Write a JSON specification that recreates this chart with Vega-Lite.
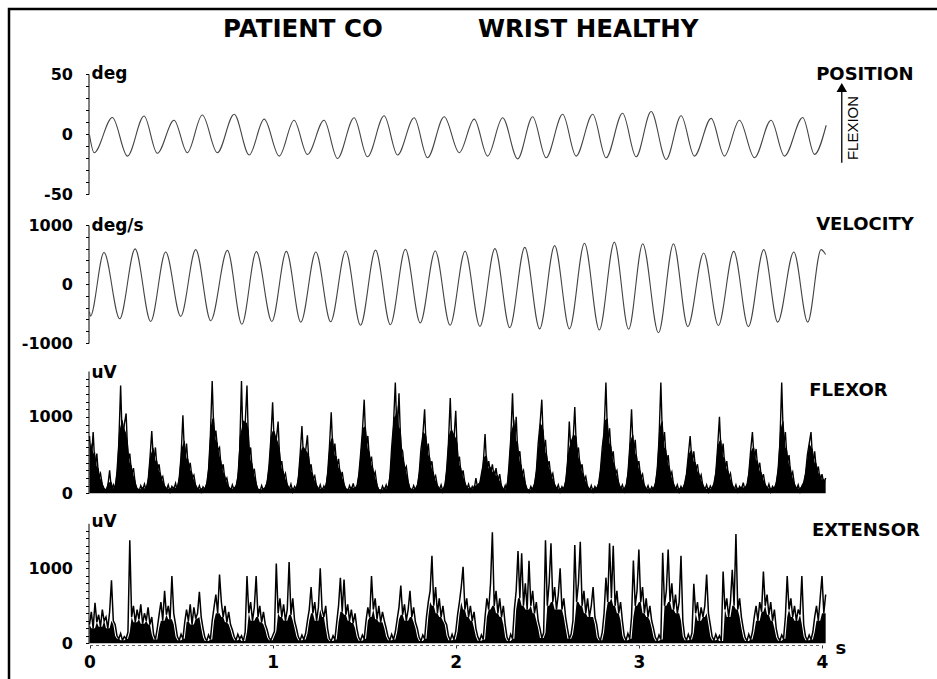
{
"$schema":"https://vega.github.io/schema/vega-lite/v6.json",
"width":940,"height":680,
"autosize":{"type":"none"},
"padding":{"left":9,"top":9,"right":0,"bottom":0},
"background":"white",
"config":{"view":{"stroke":"black","strokeWidth":2.5},"axis":{"grid":false,"domainColor":"black","tickColor":"black","labelColor":"black","titleColor":"black","labelFont":"DejaVu Sans","titleFont":"DejaVu Sans","labelFontWeight":"bold","titleFontWeight":"bold","labelFlush":false,"labelOverlap":false}},
"datasets":{
"pos":[{"t":0,"p":-1},{"t":0.025,"p":-15.6},{"t":0.125,"p":13.8},{"t":0.207,"p":-18.4},{"t":0.298,"p":15.0},{"t":0.370,"p":-16.1},{"t":0.462,"p":11.5},{"t":0.534,"p":-15.6},{"t":0.616,"p":15.8},{"t":0.698,"p":-15.6},{"t":0.790,"p":16.4},{"t":0.872,"p":-17.5},{"t":0.954,"p":12.4},{"t":1.036,"p":-18.4},{"t":1.117,"p":11.5},{"t":1.190,"p":-17.0},{"t":1.281,"p":11.5},{"t":1.354,"p":-20.4},{"t":1.445,"p":13.5},{"t":1.518,"p":-19.0},{"t":1.609,"p":15.2},{"t":1.682,"p":-17.5},{"t":1.773,"p":13.5},{"t":1.846,"p":-19.8},{"t":1.937,"p":14.4},{"t":2.019,"p":-15.6},{"t":2.101,"p":12.4},{"t":2.174,"p":-18.4},{"t":2.256,"p":13.5},{"t":2.338,"p":-20.7},{"t":2.420,"p":14.4},{"t":2.493,"p":-19.8},{"t":2.584,"p":16.4},{"t":2.657,"p":-18.4},{"t":2.748,"p":16.4},{"t":2.821,"p":-19.8},{"t":2.911,"p":17.3},{"t":2.985,"p":-19.0},{"t":3.067,"p":18.7},{"t":3.149,"p":-21.2},{"t":3.231,"p":15.2},{"t":3.303,"p":-18.4},{"t":3.395,"p":13.0},{"t":3.467,"p":-18.4},{"t":3.549,"p":11.5},{"t":3.631,"p":-19.8},{"t":3.722,"p":11.5},{"t":3.795,"p":-18.4},{"t":3.895,"p":13.8},{"t":3.959,"p":-17.0},{"t":4.023,"p":7.3}],
"vel":[{"t":0,"v":-470},{"t":0.005,"v":-545},{"t":0.079,"v":535},{"t":0.165,"v":-588},{"t":0.249,"v":595},{"t":0.334,"v":-635},{"t":0.416,"v":543},{"t":0.498,"v":-548},{"t":0.580,"v":583},{"t":0.662,"v":-623},{"t":0.753,"v":570},{"t":0.832,"v":-682},{"t":0.911,"v":548},{"t":0.996,"v":-635},{"t":1.075,"v":553},{"t":1.154,"v":-647},{"t":1.236,"v":543},{"t":1.317,"v":-640},{"t":1.399,"v":560},{"t":1.480,"v":-700},{"t":1.562,"v":575},{"t":1.643,"v":-690},{"t":1.725,"v":590},{"t":1.806,"v":-660},{"t":1.888,"v":560},{"t":1.969,"v":-700},{"t":2.051,"v":555},{"t":2.132,"v":-720},{"t":2.214,"v":600},{"t":2.295,"v":-740},{"t":2.377,"v":620},{"t":2.458,"v":-760},{"t":2.540,"v":650},{"t":2.621,"v":-760},{"t":2.703,"v":690},{"t":2.784,"v":-779},{"t":2.866,"v":710},{"t":2.944,"v":-768},{"t":3.021,"v":682},{"t":3.107,"v":-826},{"t":3.189,"v":682},{"t":3.267,"v":-722},{"t":3.354,"v":525},{"t":3.434,"v":-704},{"t":3.518,"v":553},{"t":3.598,"v":-722},{"t":3.682,"v":583},{"t":3.758,"v":-647},{"t":3.846,"v":543},{"t":3.922,"v":-647},{"t":3.995,"v":583},{"t":4.02,"v":500}],
"emg":[
{"t":0.00,"f":750,"e":250},{"t":0.01,"f":420,"e":420},{"t":0.02,"f":800,"e":200},{"t":0.03,"f":330,"e":540},{"t":0.04,"f":520,"e":280},
{"t":0.05,"f":200,"e":380},{"t":0.06,"f":260,"e":220},{"t":0.07,"f":110,"e":450},{"t":0.08,"f":60,"e":300},{"t":0.09,"f":20,"e":350},
{"t":0.10,"f":95,"e":200},{"t":0.11,"f":300,"e":420},{"t":0.12,"f":40,"e":840},{"t":0.13,"f":110,"e":300},{"t":0.14,"f":25,"e":250},
{"t":0.15,"f":280,"e":100},{"t":0.16,"f":650,"e":60},{"t":0.17,"f":1410,"e":130},{"t":0.18,"f":600,"e":40},{"t":0.19,"f":900,"e":90},
{"t":0.20,"f":1045,"e":60},{"t":0.21,"f":420,"e":150},{"t":0.22,"f":520,"e":1375},{"t":0.23,"f":250,"e":350},{"t":0.24,"f":330,"e":500},
{"t":0.25,"f":120,"e":280},{"t":0.26,"f":60,"e":450},{"t":0.27,"f":20,"e":320},{"t":0.28,"f":100,"e":520},{"t":0.29,"f":40,"e":260},
{"t":0.30,"f":120,"e":400},{"t":0.31,"f":30,"e":300},{"t":0.32,"f":160,"e":480},{"t":0.33,"f":450,"e":250},{"t":0.34,"f":815,"e":350},
{"t":0.35,"f":380,"e":120},{"t":0.36,"f":600,"e":50},{"t":0.37,"f":300,"e":200},{"t":0.38,"f":380,"e":380},{"t":0.39,"f":180,"e":550},
{"t":0.40,"f":220,"e":300},{"t":0.41,"f":80,"e":700},{"t":0.42,"f":40,"e":380},{"t":0.43,"f":110,"e":500},{"t":0.44,"f":20,"e":320},
{"t":0.45,"f":90,"e":896},{"t":0.46,"f":50,"e":400},{"t":0.47,"f":130,"e":250},{"t":0.48,"f":25,"e":90},{"t":0.49,"f":200,"e":40},
{"t":0.50,"f":480,"e":120},{"t":0.51,"f":1020,"e":60},{"t":0.52,"f":420,"e":280},{"t":0.53,"f":650,"e":450},{"t":0.54,"f":300,"e":300},
{"t":0.55,"f":400,"e":520},{"t":0.56,"f":200,"e":250},{"t":0.57,"f":240,"e":480},{"t":0.58,"f":90,"e":330},{"t":0.59,"f":35,"e":400},
{"t":0.60,"f":100,"e":687},{"t":0.61,"f":20,"e":350},{"t":0.62,"f":85,"e":200},{"t":0.63,"f":45,"e":80},{"t":0.64,"f":120,"e":30},
{"t":0.65,"f":300,"e":110},{"t":0.66,"f":750,"e":50},{"t":0.67,"f":1470,"e":300},{"t":0.68,"f":700,"e":480},{"t":0.69,"f":820,"e":650},
{"t":0.70,"f":560,"e":400},{"t":0.71,"f":600,"e":917},{"t":0.72,"f":300,"e":550},{"t":0.73,"f":380,"e":350},{"t":0.74,"f":160,"e":500},
{"t":0.75,"f":200,"e":280},{"t":0.76,"f":70,"e":420},{"t":0.77,"f":25,"e":250},{"t":0.78,"f":110,"e":180},{"t":0.79,"f":40,"e":90},
{"t":0.80,"f":90,"e":40},{"t":0.81,"f":200,"e":120},{"t":0.82,"f":550,"e":60},{"t":0.83,"f":1470,"e":100},{"t":0.84,"f":500,"e":30},
{"t":0.85,"f":900,"e":150},{"t":0.86,"f":1410,"e":896},{"t":0.87,"f":450,"e":400},{"t":0.88,"f":600,"e":550},{"t":0.89,"f":250,"e":300},
{"t":0.90,"f":320,"e":480},{"t":0.91,"f":120,"e":896},{"t":0.92,"f":50,"e":350},{"t":0.93,"f":15,"e":500},{"t":0.94,"f":100,"e":280},
{"t":0.95,"f":30,"e":420},{"t":0.96,"f":80,"e":250},{"t":0.97,"f":140,"e":180},{"t":0.98,"f":350,"e":80},{"t":0.99,"f":700,"e":40},
{"t":1.00,"f":1190,"e":100},{"t":1.01,"f":560,"e":160},{"t":1.02,"f":700,"e":1063},{"t":1.03,"f":940,"e":400},{"t":1.04,"f":350,"e":600},
{"t":1.05,"f":420,"e":350},{"t":1.06,"f":200,"e":520},{"t":1.07,"f":260,"e":300},{"t":1.08,"f":100,"e":450},{"t":1.09,"f":40,"e":1083},
{"t":1.10,"f":120,"e":380},{"t":1.11,"f":20,"e":600},{"t":1.12,"f":90,"e":300},{"t":1.13,"f":45,"e":200},{"t":1.14,"f":180,"e":90},
{"t":1.15,"f":500,"e":40},{"t":1.16,"f":880,"e":110},{"t":1.17,"f":400,"e":50},{"t":1.18,"f":550,"e":130},{"t":1.19,"f":760,"e":300},
{"t":1.20,"f":300,"e":450},{"t":1.21,"f":380,"e":750},{"t":1.22,"f":180,"e":400},{"t":1.23,"f":230,"e":550},{"t":1.24,"f":90,"e":300},
{"t":1.25,"f":35,"e":480},{"t":1.26,"f":110,"e":1000},{"t":1.27,"f":25,"e":450},{"t":1.28,"f":95,"e":350},{"t":1.29,"f":50,"e":500},
{"t":1.30,"f":250,"e":200},{"t":1.31,"f":600,"e":60},{"t":1.32,"f":1060,"e":30},{"t":1.33,"f":480,"e":100},{"t":1.34,"f":650,"e":50},
{"t":1.35,"f":350,"e":280},{"t":1.36,"f":450,"e":500},{"t":1.37,"f":200,"e":875},{"t":1.38,"f":280,"e":420},{"t":1.39,"f":110,"e":850},
{"t":1.40,"f":60,"e":380},{"t":1.41,"f":20,"e":520},{"t":1.42,"f":100,"e":300},{"t":1.43,"f":40,"e":450},{"t":1.44,"f":130,"e":270},
{"t":1.45,"f":30,"e":400},{"t":1.46,"f":80,"e":200},{"t":1.47,"f":230,"e":80},{"t":1.48,"f":500,"e":35},{"t":1.49,"f":800,"e":110},
{"t":1.50,"f":1225,"e":60},{"t":1.51,"f":600,"e":300},{"t":1.52,"f":750,"e":480},{"t":1.53,"f":400,"e":350},{"t":1.54,"f":480,"e":896},
{"t":1.55,"f":220,"e":450},{"t":1.56,"f":280,"e":600},{"t":1.57,"f":100,"e":320},{"t":1.58,"f":45,"e":500},{"t":1.59,"f":15,"e":280},
{"t":1.60,"f":95,"e":420},{"t":1.61,"f":35,"e":300},{"t":1.62,"f":110,"e":200},{"t":1.63,"f":25,"e":90},{"t":1.64,"f":200,"e":40},
{"t":1.65,"f":600,"e":120},{"t":1.66,"f":900,"e":50},{"t":1.67,"f":1450,"e":150},{"t":1.68,"f":700,"e":320},{"t":1.69,"f":1310,"e":480},
{"t":1.70,"f":600,"e":771},{"t":1.71,"f":550,"e":380},{"t":1.72,"f":300,"e":520},{"t":1.73,"f":350,"e":300},{"t":1.74,"f":150,"e":450},
{"t":1.75,"f":60,"e":700},{"t":1.76,"f":20,"e":350},{"t":1.77,"f":100,"e":480},{"t":1.78,"f":40,"e":280},{"t":1.79,"f":85,"e":200},
{"t":1.80,"f":250,"e":80},{"t":1.81,"f":580,"e":30},{"t":1.82,"f":750,"e":110},{"t":1.83,"f":1100,"e":60},{"t":1.84,"f":500,"e":350},
{"t":1.85,"f":650,"e":550},{"t":1.86,"f":350,"e":700},{"t":1.87,"f":420,"e":1166},{"t":1.88,"f":180,"e":500},{"t":1.89,"f":230,"e":750},
{"t":1.90,"f":90,"e":400},{"t":1.91,"f":40,"e":600},{"t":1.92,"f":110,"e":350},{"t":1.93,"f":20,"e":500},{"t":1.94,"f":80,"e":300},
{"t":1.95,"f":300,"e":250},{"t":1.96,"f":650,"e":100},{"t":1.97,"f":1245,"e":40},{"t":1.98,"f":550,"e":120},{"t":1.99,"f":700,"e":50},
{"t":2.00,"f":1080,"e":160},{"t":2.01,"f":400,"e":380},{"t":2.02,"f":480,"e":550},{"t":2.03,"f":220,"e":750},{"t":2.04,"f":300,"e":1020},
{"t":2.05,"f":130,"e":450},{"t":2.06,"f":50,"e":600},{"t":2.07,"f":120,"e":350},{"t":2.08,"f":25,"e":500},{"t":2.09,"f":90,"e":300},
{"t":2.10,"f":40,"e":420},{"t":2.11,"f":200,"e":200},{"t":2.12,"f":60,"e":90},{"t":2.13,"f":110,"e":35},{"t":2.14,"f":250,"e":110},
{"t":2.15,"f":380,"e":50},{"t":2.16,"f":775,"e":350},{"t":2.17,"f":300,"e":600},{"t":2.18,"f":420,"e":450},{"t":2.19,"f":250,"e":800},
{"t":2.20,"f":380,"e":1479},{"t":2.21,"f":200,"e":500},{"t":2.22,"f":330,"e":700},{"t":2.23,"f":150,"e":400},{"t":2.24,"f":250,"e":600},
{"t":2.25,"f":80,"e":350},{"t":2.26,"f":30,"e":500},{"t":2.27,"f":100,"e":250},{"t":2.28,"f":20,"e":80},{"t":2.29,"f":350,"e":30},
{"t":2.30,"f":700,"e":120},{"t":2.31,"f":1310,"e":60},{"t":2.32,"f":600,"e":450},{"t":2.33,"f":1000,"e":700},{"t":2.34,"f":450,"e":1229},
{"t":2.35,"f":550,"e":600},{"t":2.36,"f":250,"e":1200},{"t":2.37,"f":300,"e":500},{"t":2.38,"f":120,"e":800},{"t":2.39,"f":50,"e":450},
{"t":2.40,"f":15,"e":1100},{"t":2.41,"f":90,"e":500},{"t":2.42,"f":35,"e":700},{"t":2.43,"f":120,"e":400},{"t":2.44,"f":280,"e":550},
{"t":2.45,"f":650,"e":300},{"t":2.46,"f":900,"e":200},{"t":2.47,"f":1225,"e":70},{"t":2.48,"f":550,"e":140},{"t":2.49,"f":700,"e":1375},
{"t":2.50,"f":350,"e":500},{"t":2.51,"f":420,"e":800},{"t":2.52,"f":200,"e":1333},{"t":2.53,"f":260,"e":550},{"t":2.54,"f":100,"e":750},
{"t":2.55,"f":45,"e":450},{"t":2.56,"f":110,"e":650},{"t":2.57,"f":20,"e":1000},{"t":2.58,"f":85,"e":450},{"t":2.59,"f":40,"e":600},
{"t":2.60,"f":150,"e":350},{"t":2.61,"f":380,"e":200},{"t":2.62,"f":940,"e":60},{"t":2.63,"f":500,"e":120},{"t":2.64,"f":650,"e":300},
{"t":2.65,"f":1130,"e":1312},{"t":2.66,"f":500,"e":550},{"t":2.67,"f":600,"e":800},{"t":2.68,"f":300,"e":1354},{"t":2.69,"f":380,"e":500},
{"t":2.70,"f":160,"e":700},{"t":2.71,"f":220,"e":400},{"t":2.72,"f":80,"e":600},{"t":2.73,"f":30,"e":350},{"t":2.74,"f":100,"e":500},
{"t":2.75,"f":20,"e":750},{"t":2.76,"f":90,"e":350},{"t":2.77,"f":45,"e":250},{"t":2.78,"f":120,"e":80},{"t":2.79,"f":300,"e":40},
{"t":2.80,"f":600,"e":150},{"t":2.81,"f":800,"e":400},{"t":2.82,"f":1450,"e":875},{"t":2.83,"f":650,"e":550},{"t":2.84,"f":850,"e":1333},
{"t":2.85,"f":450,"e":600},{"t":2.86,"f":550,"e":1300},{"t":2.87,"f":250,"e":500},{"t":2.88,"f":300,"e":700},{"t":2.89,"f":120,"e":400},
{"t":2.90,"f":50,"e":550},{"t":2.91,"f":110,"e":300},{"t":2.92,"f":25,"e":100},{"t":2.93,"f":90,"e":40},{"t":2.94,"f":250,"e":130},
{"t":2.95,"f":600,"e":60},{"t":2.96,"f":1100,"e":350},{"t":2.97,"f":500,"e":1104},{"t":2.98,"f":700,"e":500},{"t":2.99,"f":350,"e":700},
{"t":3.00,"f":420,"e":1250},{"t":3.01,"f":200,"e":550},{"t":3.02,"f":250,"e":750},{"t":3.03,"f":90,"e":400},{"t":3.04,"f":40,"e":600},
{"t":3.05,"f":100,"e":350},{"t":3.06,"f":20,"e":500},{"t":3.07,"f":85,"e":300},{"t":3.08,"f":45,"e":200},{"t":3.09,"f":120,"e":80},
{"t":3.10,"f":300,"e":35},{"t":3.11,"f":700,"e":110},{"t":3.12,"f":1450,"e":50},{"t":3.13,"f":600,"e":1208},{"t":3.14,"f":800,"e":500},
{"t":3.15,"f":400,"e":700},{"t":3.16,"f":500,"e":1250},{"t":3.17,"f":220,"e":550},{"t":3.18,"f":280,"e":800},{"t":3.19,"f":100,"e":450},
{"t":3.20,"f":45,"e":650},{"t":3.21,"f":110,"e":400},{"t":3.22,"f":20,"e":550},{"t":3.23,"f":90,"e":1167},{"t":3.24,"f":40,"e":300},
{"t":3.25,"f":130,"e":90},{"t":3.26,"f":250,"e":40},{"t":3.27,"f":500,"e":120},{"t":3.28,"f":750,"e":50},{"t":3.29,"f":400,"e":140},
{"t":3.30,"f":550,"e":792},{"t":3.31,"f":300,"e":400},{"t":3.32,"f":380,"e":550},{"t":3.33,"f":180,"e":300},{"t":3.34,"f":240,"e":480},
{"t":3.35,"f":90,"e":350},{"t":3.36,"f":40,"e":500},{"t":3.37,"f":110,"e":917},{"t":3.38,"f":20,"e":400},{"t":3.39,"f":95,"e":250},
{"t":3.40,"f":45,"e":90},{"t":3.41,"f":130,"e":40},{"t":3.42,"f":260,"e":120},{"t":3.43,"f":600,"e":50},{"t":3.44,"f":1000,"e":100},
{"t":3.45,"f":450,"e":30},{"t":3.46,"f":650,"e":958},{"t":3.47,"f":320,"e":450},{"t":3.48,"f":420,"e":600},{"t":3.49,"f":200,"e":350},
{"t":3.50,"f":260,"e":550},{"t":3.51,"f":100,"e":979},{"t":3.52,"f":40,"e":500},{"t":3.53,"f":110,"e":1458},{"t":3.54,"f":25,"e":450},
{"t":3.55,"f":90,"e":600},{"t":3.56,"f":50,"e":350},{"t":3.57,"f":140,"e":200},{"t":3.58,"f":30,"e":80},{"t":3.59,"f":100,"e":30},
{"t":3.60,"f":250,"e":120},{"t":3.61,"f":550,"e":50},{"t":3.62,"f":800,"e":150},{"t":3.63,"f":420,"e":350},{"t":3.64,"f":580,"e":500},
{"t":3.65,"f":300,"e":300},{"t":3.66,"f":400,"e":550},{"t":3.67,"f":180,"e":420},{"t":3.68,"f":250,"e":958},{"t":3.69,"f":100,"e":500},
{"t":3.70,"f":45,"e":650},{"t":3.71,"f":120,"e":380},{"t":3.72,"f":20,"e":550},{"t":3.73,"f":90,"e":300},{"t":3.74,"f":50,"e":450},
{"t":3.75,"f":130,"e":200},{"t":3.76,"f":300,"e":80},{"t":3.77,"f":650,"e":35},{"t":3.78,"f":1450,"e":110},{"t":3.79,"f":600,"e":60},
{"t":3.80,"f":800,"e":350},{"t":3.81,"f":400,"e":896},{"t":3.82,"f":500,"e":450},{"t":3.83,"f":220,"e":600},{"t":3.84,"f":280,"e":350},
{"t":3.85,"f":100,"e":500},{"t":3.86,"f":45,"e":300},{"t":3.87,"f":110,"e":450},{"t":3.88,"f":20,"e":380},{"t":3.89,"f":95,"e":896},
{"t":3.90,"f":140,"e":250},{"t":3.91,"f":250,"e":90},{"t":3.92,"f":500,"e":40},{"t":3.93,"f":650,"e":110},{"t":3.94,"f":800,"e":50},
{"t":3.95,"f":380,"e":150},{"t":3.96,"f":550,"e":350},{"t":3.97,"f":280,"e":500},{"t":3.98,"f":350,"e":300},{"t":3.99,"f":160,"e":600},
{"t":4.00,"f":250,"e":896},{"t":4.01,"f":120,"e":400},{"t":4.02,"f":200,"e":650}
]},
"layer":[
{"layer":[
 {"data":{"name":"pos"},"mark":{"type":"line","interpolate":"monotone","color":"#444","strokeWidth":1.1},
  "encoding":{
   "x":{"field":"t","type":"quantitative","title":"s","scale":{"domain":[0,4],"range":[80.5,813]},
        "axis":{"orient":"bottom","offset":-44,"values":[0,1,2,3,4],"format":"d","tickSize":3,"labelPadding":6,"labelFontSize":17,"domainDash":[3,3],"domainColor":"#666","tickColor":"#333","title":"s","titleX":826,"titleY":8,"titleAlign":"left","titleBaseline":"alphabetic","titleFontSize":18,"titleAngle":0}},
   "y":{"field":"p","type":"quantitative","title":"deg","scale":{"domain":[-50,50],"range":[185,65]},
        "axis":{"orient":"left","offset":-79.5,"values":[-50,-40,-30,-20,-10,0,10,20,30,40,50],"labelExpr":"datum.value == 50 ? '50' : datum.value == 0 ? '0' : datum.value == -50 ? '-50' : ''","tickSize":3,"labelPadding":13,"labelFontSize":16,"titleAngle":0,"titleAlign":"left","titleBaseline":"alphabetic","titleX":2.5,"titleY":69.5,"titleFontSize":17}}}},
 {"data":{"values":[{}]},"mark":{"type":"text","align":"left","baseline":"alphabetic","font":"DejaVu Sans","fontWeight":"bold","fontSize":24.5,"color":"black"},
  "encoding":{"x":{"datum":0.729,"type":"quantitative"},"y":{"datum":80.8,"type":"quantitative"},"text":{"value":"PATIENT CO"}}},
 {"data":{"values":[{}]},"mark":{"type":"text","align":"left","baseline":"alphabetic","font":"DejaVu Sans","fontWeight":"bold","fontSize":24.5,"color":"black"},
  "encoding":{"x":{"datum":2.121,"type":"quantitative"},"y":{"datum":80.8,"type":"quantitative"},"text":{"value":"WRIST HEALTHY"}}},
 {"data":{"values":[{}]},"mark":{"type":"text","align":"left","baseline":"alphabetic","font":"DejaVu Sans","fontWeight":"bold","fontSize":18,"color":"black"},
  "encoding":{"x":{"datum":3.968,"type":"quantitative"},"y":{"datum":45,"type":"quantitative"},"text":{"value":"POSITION"}}},
 {"data":{"values":[{}]},"mark":{"type":"text","align":"center","baseline":"middle","angle":270,"font":"Liberation Sans","fontSize":15,"color":"black"},
  "encoding":{"x":{"datum":4.171,"type":"quantitative"},"y":{"datum":5,"type":"quantitative"},"text":{"value":"FLEXION"}}},
 {"data":{"values":[{}]},"mark":{"type":"rule","color":"black","strokeWidth":1.3},
  "encoding":{"x":{"datum":4.108,"type":"quantitative"},"y":{"datum":-24,"type":"quantitative"},"y2":{"datum":35}}},
 {"data":{"values":[{}]},"mark":{"type":"point","shape":"triangle-up","filled":true,"color":"black","opacity":1,"size":110},
  "encoding":{"x":{"datum":4.108,"type":"quantitative"},"y":{"datum":38.7,"type":"quantitative"}}}
]},
{"layer":[
 {"data":{"name":"vel"},"mark":{"type":"line","interpolate":"monotone","color":"#444","strokeWidth":1.1},
  "encoding":{
   "x":{"field":"t","type":"quantitative","title":"s"},
   "y":{"field":"v","type":"quantitative","title":"deg/s","scale":{"domain":[-1000,1000],"range":[334,216]},
        "axis":{"orient":"left","offset":-79.5,"values":[-1000,-800,-600,-400,-200,0,200,400,600,800,1000],"labelExpr":"datum.value == 1000 ? '1000' : datum.value == 0 ? '0' : datum.value == -1000 ? '-1000' : ''","tickSize":3,"labelPadding":13,"labelFontSize":16,"titleAngle":0,"titleAlign":"left","titleBaseline":"alphabetic","titleX":2.5,"titleY":221,"titleFontSize":17}}}},
 {"data":{"values":[{}]},"mark":{"type":"text","align":"left","baseline":"alphabetic","font":"DejaVu Sans","fontWeight":"bold","fontSize":18,"color":"black"},
  "encoding":{"x":{"datum":3.968,"type":"quantitative"},"y":{"datum":915,"type":"quantitative"},"text":{"value":"VELOCITY"}}}
]},
{"layer":[
 {"data":{"name":"emg"},"transform":[{"window":[{"op":"mean","field":"f","as":"fm"}],"frame":[-1,1],"sort":[{"field":"t"}]}],
  "mark":{"type":"area","color":"black","opacity":1},
  "encoding":{"x":{"field":"t","type":"quantitative","title":"s"},"y":{"field":"fm","type":"quantitative","title":"uV"}}},
 {"data":{"name":"emg"},"mark":{"type":"line","color":"black","strokeWidth":1.4},
  "encoding":{
   "x":{"field":"t","type":"quantitative","title":"s"},
   "y":{"field":"f","type":"quantitative","title":"uV","scale":{"domain":[0,1500],"range":[484.3,362]},
        "axis":{"orient":"left","offset":-79.5,"values":[0,100,200,300,400,500,600,700,800,900,1000,1100,1200,1300,1400,1500],"labelExpr":"datum.value == 1000 ? '1000' : datum.value == 0 ? '0' : ''","tickSize":3,"labelPadding":13,"labelFontSize":16,"titleAngle":0,"titleAlign":"left","titleBaseline":"alphabetic","titleX":2.5,"titleY":368,"titleFontSize":17}}}},
 {"data":{"values":[{}]},"mark":{"type":"text","align":"left","baseline":"alphabetic","font":"DejaVu Sans","fontWeight":"bold","fontSize":18,"color":"black"},
  "encoding":{"x":{"datum":3.93,"type":"quantitative"},"y":{"datum":1267,"type":"quantitative"},"text":{"value":"FLEXOR"}}}
]},
{"layer":[
 {"data":{"name":"emg"},"transform":[{"window":[{"op":"min","field":"e","as":"em"}],"frame":[-1,1],"sort":[{"field":"t"}]}],
  "mark":{"type":"area","color":"black","opacity":1},
  "encoding":{"x":{"field":"t","type":"quantitative","title":"s"},"y":{"field":"em","type":"quantitative","title":"uV"}}},
 {"data":{"name":"emg"},"mark":{"type":"line","color":"black","strokeWidth":1.5},
  "encoding":{
   "x":{"field":"t","type":"quantitative","title":"s"},
   "y":{"field":"e","type":"quantitative","title":"uV","scale":{"domain":[0,1500],"range":[634.3,514.3]},
        "axis":{"orient":"left","offset":-79.5,"values":[0,100,200,300,400,500,600,700,800,900,1000,1100,1200,1300,1400,1500],"labelExpr":"datum.value == 1000 ? '1000' : datum.value == 0 ? '0' : ''","tickSize":3,"labelPadding":13,"labelFontSize":16,"titleAngle":0,"titleAlign":"left","titleBaseline":"alphabetic","titleX":2.5,"titleY":517.7,"titleFontSize":17}}}},
 {"data":{"values":[{}]},"mark":{"type":"text","align":"left","baseline":"alphabetic","font":"DejaVu Sans","fontWeight":"bold","fontSize":18,"color":"black"},
  "encoding":{"x":{"datum":3.945,"type":"quantitative"},"y":{"datum":1425,"type":"quantitative"},"text":{"value":"EXTENSOR"}}}
]}
],
"resolve":{"scale":{"y":"independent"},"axis":{"y":"independent"}}
}
